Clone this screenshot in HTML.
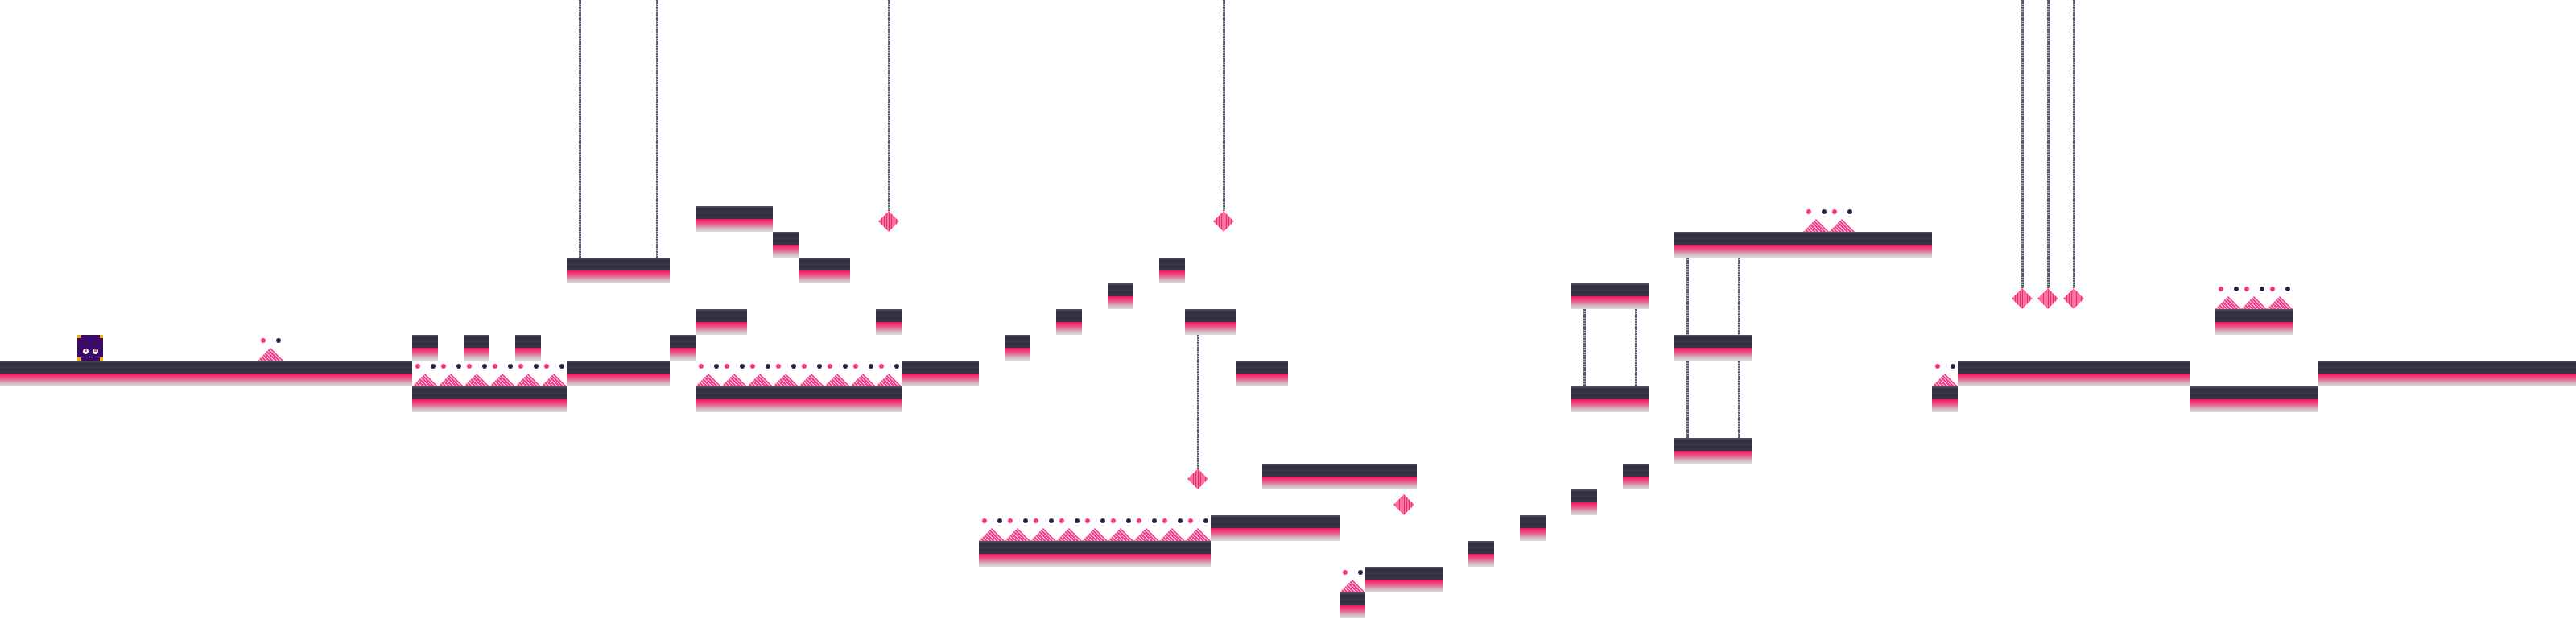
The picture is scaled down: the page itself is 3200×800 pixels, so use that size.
<!DOCTYPE html>
<html><head><meta charset="utf-8"><style>
html,body{margin:0;padding:0;background:#fff;}
#stage{position:relative;width:3200px;height:800px;overflow:hidden;background:#fff;font-family:"Liberation Sans",sans-serif;}
.t{position:absolute;width:32px;height:32px;background:linear-gradient(#4d4a60 0,#4d4a60 2px,#3a3548 2px,#322c3e 4px,#3b3649 8px,#322c3e 12px,#3a3548 14px,#322c3e 16px,#f2145c 16px,#e55a86 22px,#d5c6cc 29px,#dcdcdc 32px);}
.s{position:absolute;width:32px;height:16px;clip-path:polygon(50% 0,100% 100%,0 100%);background:repeating-linear-gradient(45deg,#f4408a 0 2px,#fbd0e0 2px 3px);}
.d{position:absolute;width:6px;height:6px;border-radius:50%;}
.r{position:absolute;width:3px;background:repeating-linear-gradient(#5a5670 0 2px,#b0acc0 2px 3px);}
.g{position:absolute;width:18px;height:18px;background:repeating-linear-gradient(45deg,#f2286a 0 2px,#fbc4d8 2px 3px),#f2286a;transform:rotate(45deg);}
#player{position:absolute;left:96px;top:416px;width:32px;height:32px;background:#3a0a66;}
</style></head><body>
<div id="stage">
<div id="player">
<div style="position:absolute;left:0;top:0;width:4px;height:4px;background:#e8b400"></div>
<div style="position:absolute;right:0;top:0;width:4px;height:4px;background:#e8b400"></div>
<div style="position:absolute;left:0;bottom:0;width:4px;height:4px;background:#e8b400"></div>
<div style="position:absolute;right:0;bottom:0;width:4px;height:4px;background:#e8b400"></div>
<div style="position:absolute;left:7px;top:17px;width:7px;height:7px;border-radius:50%;background:#fff"></div>
<div style="position:absolute;left:19px;top:17px;width:7px;height:7px;border-radius:50%;background:#fff"></div>
<div style="position:absolute;left:9px;top:18px;width:3px;height:3px;background:#e05090"></div>
<div style="position:absolute;left:21px;top:18px;width:3px;height:3px;background:#e05090"></div>
<div style="position:absolute;left:15px;top:27px;width:4px;height:1px;background:#fff"></div>
</div>
</div>
<script>
// tile runs: [row, colStart, colEnd inclusive]
const tileRuns = [
[14,0,15],[13,16,16],[13,18,18],[13,20,20],[15,16,21],[14,22,25],[13,26,26],[10,22,25],
[8,27,29],[9,30,30],[10,31,32],[12,27,28],[15,27,34],[14,35,37],[12,34,34],
[13,39,39],[12,41,41],[11,43,43],[10,45,45],[12,46,47],[14,48,49],[18,49,54],[20,47,51],
[21,38,46],[23,52,52],[22,53,55],[21,57,57],[20,59,59],[19,61,61],[18,63,63],
[11,61,63],[15,61,63],[13,65,67],[17,65,67],[9,65,74],[15,75,75],[14,76,84],[15,85,89],
[12,86,88],[14,90,99]
];
// spike runs: [row, colStart, colEnd]
const spikeRuns = [[13,10,10],[14,16,21],[14,27,34],[20,38,46],[22,52,52],[8,70,71],[14,75,75],[11,86,88]];
// ropes: [xCenterCol, rowTop, rowBottom]
const ropes = [[22.5,0,10],[25.5,0,10],[34.5,0,8.2],[47.5,0,8.2],[46.5,13,18.2],[61.5,12,15],[63.5,12,15],[65.5,10,17],[67.5,10,17],[78.5,0,11.2],[79.5,0,11.2],[80.5,0,11.2]];
// hanging gems: [col, row]
const gems = [[34.5,8.6],[47.5,8.6],[46.5,18.6],[54.5,19.6],[78.5,11.6],[79.5,11.6],[80.5,11.6]];
const T=32;
const st=document.getElementById('stage');
for(const [c,r0,r1] of ropes){
  const e=document.createElement('div');e.className='r';
  
  
  e.style.left=(c*T-1.5)+'px';e.style.top=(r0*T)+'px';e.style.height=((r1-r0)*T)+'px';
  st.appendChild(e);
}
for(const [r,a,b] of tileRuns){
  for(let c=a;c<=b;c++){
    const e=document.createElement('div');e.className='t';
    
    
    e.style.left=(c*T)+'px';e.style.top=(r*T)+'px';st.appendChild(e);
  }
}
for(const [r,a,b] of spikeRuns){
  for(let c=a;c<=b;c++){
    const e=document.createElement('div');e.className='s';
    
    
    e.style.left=(c*T)+'px';e.style.top=(r*T+16)+'px';st.appendChild(e);
    const d1=document.createElement('div');d1.className='d';
    
    
    d1.style.left=(c*T+4)+'px';d1.style.top=(r*T+4)+'px';d1.style.background='#f2387a';st.appendChild(d1);
    const d2=document.createElement('div');d2.className='d';
    
    
    d2.style.left=(c*T+23)+'px';d2.style.top=(r*T+4)+'px';d2.style.background='#23224a';st.appendChild(d2);
  }
}
for(const [c,r] of gems){
  const e=document.createElement('div');e.className='g';
  
  
  e.style.left=(c*T-9)+'px';e.style.top=(r*T-9)+'px';st.appendChild(e);
}
st.appendChild(document.getElementById('player'));
</script>
</body></html>
